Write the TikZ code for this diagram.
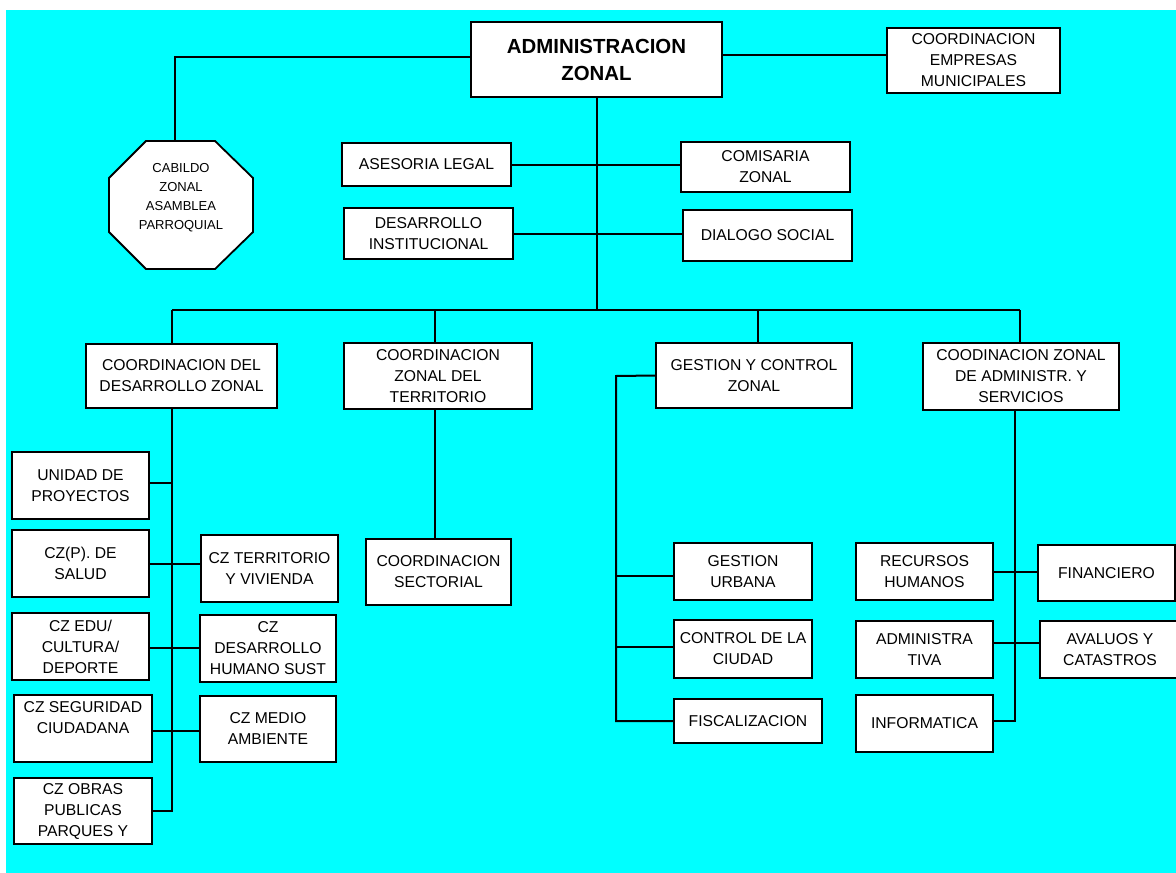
\documentclass[tikz,border=0pt]{standalone}
\usepackage{fontspec}
\setmainfont{Liberation Sans}
\definecolor{bgcyan}{RGB}{0,255,255}
% \orgbox[style]{name}{x1}{y1}{x2}{y2}{text}: a box given by its corners
\newcommand\orgbox[7][]{%
  \node[orgnode,#1,minimum width={(#5-#3)*1pt},minimum height={(#6-#4)*1pt}]
    (#2) at ({(#3+#5)/2},{(#4+#6)/2}) {#7};}
\begin{document}
\begin{tikzpicture}[x=1pt,y=-1pt,
  link/.style={line width=2pt},
  orgnode/.style={draw, fill=white, line width=1.8pt, inner sep=0pt,
    align=center, font=\fontsize{15.7}{21}\selectfont},
  headnode/.style={font=\bfseries\fontsize{20.4}{27}\selectfont},
]
\useasboundingbox (0,0) rectangle (1176,873);
\fill[bgcyan] (6,10) rectangle (1176,873);

% top level
\orgbox[headnode]{admin}{471}{22}{722}{97}{ADMINISTRACION\\ZONAL}
\orgbox{empresas}{887}{28}{1060}{93}{COORDINACION\\EMPRESAS\\MUNICIPALES}

% cabildo octagon
\filldraw[fill=white, line width=1.8pt] (146,141) -- (215,141) -- (253,178) -- (253,232)
  -- (215,269) -- (146,269) -- (109,232) -- (109,178) -- cycle;
\node[align=center, font=\fontsize{13}{19}\selectfont] (cabildo) at (181,197.5)
  {CABILDO\\ZONAL\\ASAMBLEA\\PARROQUIAL};
\coordinate (cabtop) at (175,141);

% staff units
\orgbox{asesoria}{342}{143}{511}{186}{ASESORIA LEGAL}
\orgbox{comisaria}{681}{142}{850}{192}{COMISARIA\\ZONAL}
\orgbox{desinst}{344}{208}{513}{259}{DESARROLLO\\INSTITUCIONAL}
\orgbox{dialogo}{683}{210}{852}{261}{DIALOGO SOCIAL}

% coordinations
\orgbox{cdz}{86}{344}{277}{408}{COORDINACION DEL\\DESARROLLO ZONAL}
\orgbox{czt}{344}{343}{532}{409}{COORDINACION\\ZONAL DEL\\TERRITORIO}
\orgbox{gcz}{656}{343}{852}{408}{GESTION Y CONTROL\\ZONAL}
\orgbox{csv}{923}{343}{1119}{410}{COODINACION ZONAL\\DE ADMINISTR. Y\\SERVICIOS}

% desarrollo zonal units
\orgbox{unidad}{12}{452}{149}{519}{UNIDAD DE\\PROYECTOS}
\orgbox{salud}{12}{530}{149}{597}{CZ(P). DE\\SALUD}
\orgbox{czterr}{201}{535}{338}{602}{CZ TERRITORIO\\Y VIVIENDA}
\orgbox{edu}{12}{613}{149}{680}{CZ EDU/\\CULTURA/\\DEPORTE}
\orgbox{dhs}{200}{615}{336}{682}{CZ\\DESARROLLO\\HUMANO SUST}
\orgbox{seg}{14}{695}{152}{762}{CZ SEGURIDAD\\CIUDADANA\\\mbox{}}
\orgbox{medio}{200}{696}{336}{762}{CZ MEDIO\\AMBIENTE}
\orgbox{obras}{14}{778}{152}{844}{CZ OBRAS\\PUBLICAS\\PARQUES Y}

% territorio
\orgbox{sectorial}{366}{539}{511}{605}{COORDINACION\\SECTORIAL}

% gestion y control
\orgbox{urbana}{674}{543}{812}{600}{GESTION\\URBANA}
\orgbox{control}{674}{620}{812}{678}{CONTROL DE LA\\CIUDAD}
\orgbox{fiscal}{674}{699}{822}{743}{FISCALIZACION}

% administracion y servicios
\orgbox{recursos}{856}{543}{993}{600}{RECURSOS\\HUMANOS}
\orgbox{financiero}{1038}{545}{1175}{601}{FINANCIERO}
\orgbox{admtiva}{856}{621}{993}{678}{ADMINISTRA\\TIVA}
\orgbox{avaluos}{1040}{621}{1180}{678}{AVALUOS Y\\CATASTROS}
\orgbox{informatica}{856}{695}{993}{752}{INFORMATICA}

% connectors
\coordinate (busL) at (172,310);
\coordinate (busR) at (1020,310);
\coordinate (gv) at (616,376);
\coordinate (rv) at (1015,721);

\draw[link] ([yshift=2.5pt]admin.west) -| (cabtop);
\draw[link] ([yshift=4.5pt]admin.east) -- ([yshift=4.5pt]admin.east -| empresas.west);
\draw[link] (admin.south) -- (admin.south |- busL);
\draw[link] (asesoria.east) -- (asesoria.east -| comisaria.west);
\draw[link] (desinst.east) -- (desinst.east -| dialogo.west);

\draw[link] (busL) -- (busR);
\draw[link] (busL) -- (busL |- cdz.north);
\draw[link] ([xshift=-3pt]czt.north |- busL) -- ([xshift=-3pt]czt.north);
\draw[link] ([xshift=4pt]gcz.north |- busL) -- ([xshift=4pt]gcz.north);
\draw[link] (busR) -- (busR |- csv.north);

\draw[link] (cdz.south -| busL) -- (busL |- obras.east) -- (obras.east);
\draw[link] ([yshift=2.5pt]unidad.east) -- ([yshift=2.5pt]unidad.east -| busL);
\draw[link] (salud.east) -- (salud.east -| czterr.west);
\draw[link] ([yshift=-1.5pt]edu.east) -- ([yshift=-1.5pt]edu.east -| dhs.west);
\draw[link] ([yshift=-2.5pt]seg.east) -- ([yshift=-2.5pt]seg.east -| medio.west);

\draw[link] ([xshift=-3pt]czt.south) -- ([xshift=-3pt]czt.south |- sectorial.north);

\draw[link] (gcz.west) -- (gv) -- (gv |- fiscal.west) -- (fiscal.west);
\draw[link] ([yshift=-4pt]urbana.west) -- ([yshift=-4pt]urbana.west -| gv);
\draw[link] ([yshift=2.5pt]control.west) -- ([yshift=2.5pt]control.west -| gv);

\draw[link] (csv.south -| rv) -- (rv) -- (rv -| informatica.east);
\draw[link] (recursos.east) -- (recursos.east -| financiero.west);
\draw[link] ([yshift=7pt]admtiva.east) -- ([yshift=7pt]admtiva.east -| avaluos.west);
\end{tikzpicture}
\end{document}
